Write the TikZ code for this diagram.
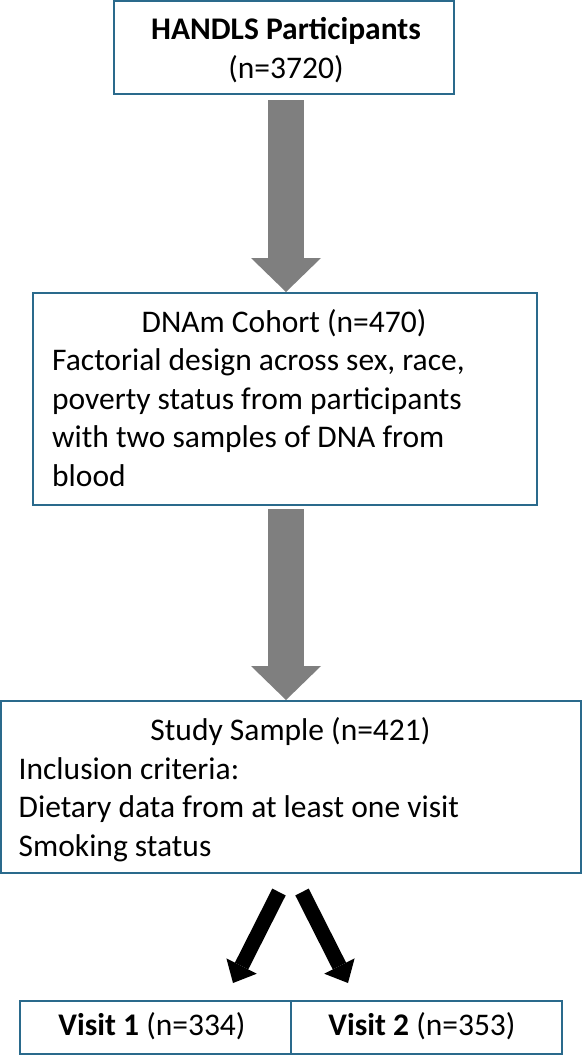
\documentclass[tikz,border=0pt]{standalone}
\usepackage{fontspec}
\setmainfont{Carlito}
\usetikzlibrary{arrows.meta,calc}
\definecolor{boxblue}{HTML}{2A6A8C}
\definecolor{arrowgray}{HTML}{7F7F7F}
\newcommand\tstrut{\rule{0pt}{25pt}}
\begin{document}
\begin{tikzpicture}[x=1pt,y=-1pt,
  box/.style={draw=boxblue, line width=2pt, fill=white, inner sep=0pt},
  txt/.style={inner sep=0pt, font=\fontsize{31.5}{38.5}\selectfont, text=black},
  bodytxt/.style={txt, align=left, anchor=north west},
  grayarrow/.style={arrowgray, line width=36pt, -{Triangle[width=70pt,length=34pt,line width=0pt]}},
  blackarrow/.style={black, line width=15pt, -{Triangle[width=34pt,length=19pt,line width=0pt]}},
]
\useasboundingbox (0,0) rectangle (582,1057);

% boxes
\node[box, minimum width=340pt, minimum height=93pt] (top) at (284,47.5) {};
\node[box, minimum width=504pt, minimum height=212pt] (dnam) at (285,399) {};
\node[box, minimum width=580pt, minimum height=172pt] (study) at (291,787) {};
\node[box, minimum width=271pt, minimum height=53pt] (v1) at (155.5,1027.5) {};
\node[box, minimum width=271pt, minimum height=53pt] (v2) at (426.5,1027.5) {};

% texts
\node[txt, anchor=base, font={\fontsize{31.5}{38.5}\selectfont\bfseries}] (toph) at (286,39.5) {HANDLS Participants};
\node[txt, anchor=base] (topn) at (286,78.5) {(n=3720)};

\node[txt, anchor=base] (dnamh) at (284,332) {DNAm Cohort (n=470)};
\node[bodytxt] (dnamb) at (52,345.5) {\tstrut Factorial design across sex, race,\\poverty status from participants\\with two samples of DNA from\\blood};

\node[txt, anchor=base] (studyh) at (290.5,740.5) {Study Sample (n=421)};
\node[bodytxt] (studyb) at (18.5,754) {\tstrut Inclusion criteria:\\Dietary data from at least one visit\\Smoking status};

\node[txt, anchor=base] (v1t) at (152,1035.5) {\textbf{Visit 1} (n=334)};
\node[txt, anchor=base] (v2t) at (422,1035.5) {\textbf{Visit 2} (n=353)};

% gray block arrows
\draw[grayarrow] ($(top.south)+(2,5)$) -- ($(dnam.north)+(1,0)$);
\draw[grayarrow] ($(dnam.south)+(1,3)$) -- ($(study.north)+(-5,0)$);

% black arrows
\coordinate (ls) at ($(study.south)+(-12,18)$);
\coordinate (le) at ($(v1.north)+(77.5,-17)$);
\coordinate (rs) at ($(study.south)+(11,18)$);
\coordinate (re) at ($(v2.north)+(-78.5,-17)$);
\draw[blackarrow] (ls) -- (le);
\draw[blackarrow] (rs) -- (re);
\end{tikzpicture}
\end{document}
